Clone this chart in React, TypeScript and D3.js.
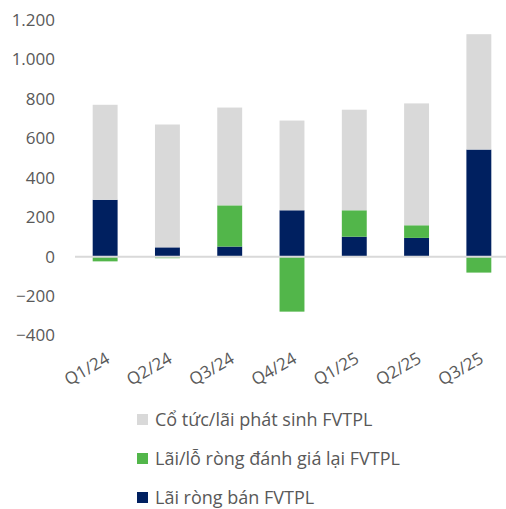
import React from 'react';
import * as d3 from 'd3';

// quarters and the three stacked series (bn VND)
const quarters = ['Q1/24', 'Q2/24', 'Q3/24', 'Q4/24', 'Q1/25', 'Q2/25', 'Q3/25'];
const laiRongBan = [288, 47, 51, 235, 101, 95, 543];
const danhGiaLai = [-24, -8, 209, -279, 134, 64, -81];
const coTuc = [482, 623, 496, 455, 510, 618, 585];
const yTicks = [-400, -200, 0, 200, 400, 600, 800, 1000, 1200];

const seriesNames = ['Cổ tức/lãi phát sinh FVTPL', 'Lãi/lỗ ròng đánh giá lại FVTPL', 'Lãi ròng bán FVTPL'];
const colors = ['#d9d9d9', '#52b64a', '#002060'];

const W = 506;
const H = 509;

const fmt = (v: number) => d3.format(',')(v).replace(/,/g, '.');

export default function App() {
  const x = d3.scaleBand().domain(quarters).range([74, 510]).paddingInner(0.6).paddingOuter(0.3);
  const y = d3.scaleLinear().domain([-400, 1200]).range([335.5, 20]);

  // stack bottom -> top: navy, green, gray; negatives go below zero
  const stacks = [laiRongBan, danhGiaLai, coTuc];
  const stackColors = [colors[2], colors[1], colors[0]];
  const rects: { x: number; y0: number; y1: number; color: string; key: string }[] = [];
  quarters.forEach((q, i) => {
    let pos = 0;
    let neg = 0;
    stacks.forEach((s, j) => {
      const v = s[i];
      if (v >= 0) {
        rects.push({ x: x(q)!, y0: pos, y1: pos + v, color: stackColors[j], key: q + j });
        pos += v;
      } else {
        rects.push({ x: x(q)!, y0: neg + v, y1: neg, color: stackColors[j], key: q + j });
        neg += v;
      }
    });
  });

  const font = "'Segoe UI', 'Open Sans', 'Noto Sans', sans-serif";

  return (
    <svg width={W} height={H} style={{ position: 'absolute', left: 0, top: 0, background: '#fff' }}>
      {yTicks.map(t => (
        <text key={t} x={55} y={y(t)} dy="0.35em" textAnchor="end" fontSize={17} fill="#595959" fontFamily={font}>
          {fmt(t)}
        </text>
      ))}
      {rects.map(r => (
        <rect key={r.key} x={r.x} width={x.bandwidth()} y={y(r.y1)} height={Math.abs(y(r.y0) - y(r.y1))} fill={r.color} />
      ))}
      <line x1={75} x2={W} y1={y(0)} y2={y(0)} stroke="#d9d9d9" strokeWidth={2} />
      {quarters.map(q => {
        const cx = x(q)! + x.bandwidth() / 2 - 1;
        return (
          <text key={q} transform={`translate(${cx},${350}) rotate(-30)`} textAnchor="end" dy="0.8em"
            fontSize={17} fill="#595959" fontFamily={font}>
            {q}
          </text>
        );
      })}
      {seriesNames.map((n, i) => (
        <g key={n} transform={`translate(137,${420 + i * 39})`}>
          <rect x={0} y={-6} width={11} height={11} fill={colors[i]} />
          <text x={18} y={0} dy="0.35em" fontSize={18} fill="#595959" fontFamily={font}>{n}</text>
        </g>
      ))}
    </svg>
  );
}
